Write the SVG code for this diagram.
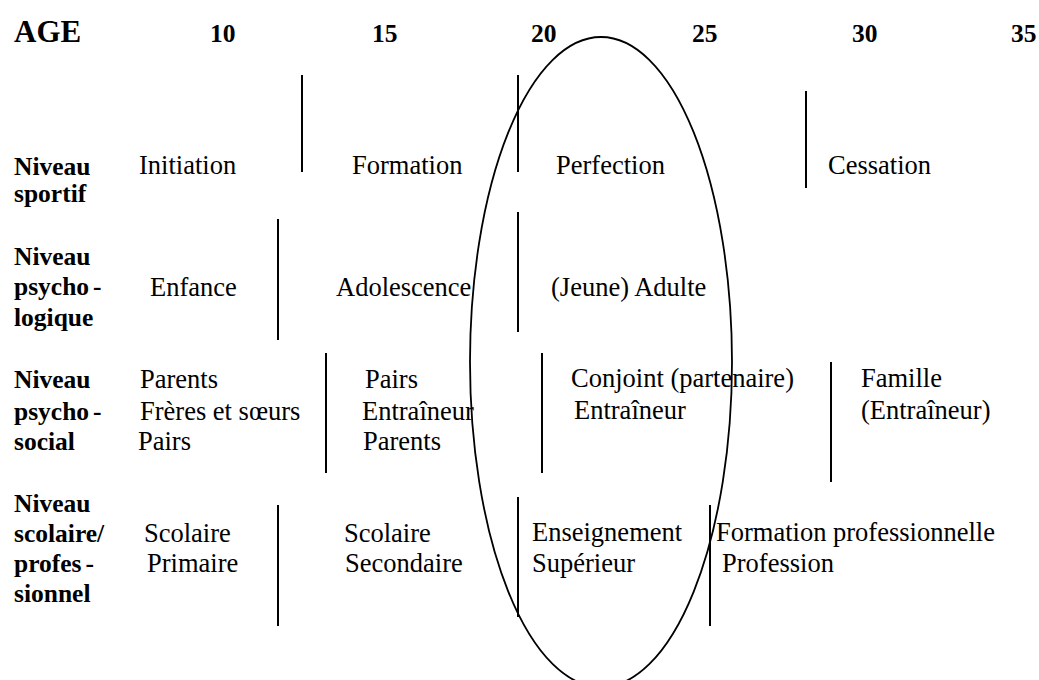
<svg xmlns="http://www.w3.org/2000/svg" width="1039" height="680" viewBox="0 0 1039 680">
<style>
text{font-family:"Liberation Serif","Times New Roman",serif;fill:#000}
.b{font-weight:bold;font-size:25.5px}
.r{font-size:26.5px}
.t{font-weight:bold;font-size:31px}
.sep line{stroke:#000;stroke-width:2}
.oval{fill:none;stroke:#000;stroke-width:1.8}
</style>
<rect width="1039" height="680" fill="#fff"/>
<g id="axis">
<text class="t" x="14" y="42">AGE</text>
<text class="b" x="210" y="42">10</text>
<text class="b" x="372" y="42">15</text>
<text class="b" x="531" y="42">20</text>
<text class="b" x="692" y="42">25</text>
<text class="b" x="852" y="42">30</text>
<text class="b" x="1011" y="42">35</text>
</g>
<g id="row-sportif">
<text class="b" x="14" y="175">Niveau</text>
<text class="b" x="14" y="202">sportif</text>
<text class="r" x="139" y="174">Initiation</text>
<text class="r" x="352" y="174">Formation</text>
<text class="r" x="556" y="174">Perfection</text>
<text class="r" x="828" y="174">Cessation</text>
</g>
<g id="row-psychologique">
<text class="b" x="14" y="265">Niveau</text>
<text class="b" x="14" y="295">psycho<tspan dx="4">-</tspan></text>
<text class="b" x="14" y="326">logique</text>
<text class="r" x="150" y="296">Enfance</text>
<text class="r" x="336" y="296">Adolescence</text>
<text class="r" x="551" y="296">(Jeune) Adulte</text>
</g>
<g id="row-psychosocial">
<text class="b" x="14" y="388">Niveau</text>
<text class="b" x="14" y="420">psycho<tspan dx="4">-</tspan></text>
<text class="b" x="14" y="450">social</text>
<text class="r" x="140" y="388">Parents</text>
<text class="r" x="140" y="420">Frères et sœurs</text>
<text class="r" x="138" y="450">Pairs</text>
<text class="r" x="365" y="388">Pairs</text>
<text class="r" x="362" y="420">Entraîneur</text>
<text class="r" x="363" y="450">Parents</text>
<text class="r" x="571" y="387">Conjoint (partenaire)</text>
<text class="r" x="574" y="419">Entraîneur</text>
<text class="r" x="861" y="387">Famille</text>
<text class="r" x="861" y="419">(Entraîneur)</text>
</g>
<g id="row-scolaire">
<text class="b" x="14" y="512">Niveau</text>
<text class="b" x="14" y="542">scolaire/</text>
<text class="b" x="14" y="572">profes<tspan dx="4">-</tspan></text>
<text class="b" x="14" y="602">sionnel</text>
<text class="r" x="144" y="542">Scolaire</text>
<text class="r" x="147" y="572">Primaire</text>
<text class="r" x="344" y="542">Scolaire</text>
<text class="r" x="345" y="572">Secondaire</text>
<text class="r" x="532" y="541">Enseignement</text>
<text class="r" x="532" y="572">Supérieur</text>
<text class="r" x="716" y="541">Formation professionnelle</text>
<text class="r" x="722" y="572">Profession</text>
</g>
<g id="separators" class="sep">
<line x1="302" y1="75" x2="302" y2="172"/>
<line x1="518" y1="75" x2="518" y2="172"/>
<line x1="806" y1="91" x2="806" y2="188"/>
<line x1="278" y1="219" x2="278" y2="340"/>
<line x1="518" y1="212" x2="518" y2="332"/>
<line x1="326" y1="353" x2="326" y2="473"/>
<line x1="542" y1="353" x2="542" y2="473"/>
<line x1="831" y1="362" x2="831" y2="482"/>
<line x1="278" y1="505" x2="278" y2="626"/>
<line x1="518" y1="497" x2="518" y2="617"/>
<line x1="710" y1="505" x2="710" y2="626"/>
</g>
<g id="highlight">
<ellipse class="oval" cx="601" cy="362" rx="131" ry="325"/>
</g>
</svg>
